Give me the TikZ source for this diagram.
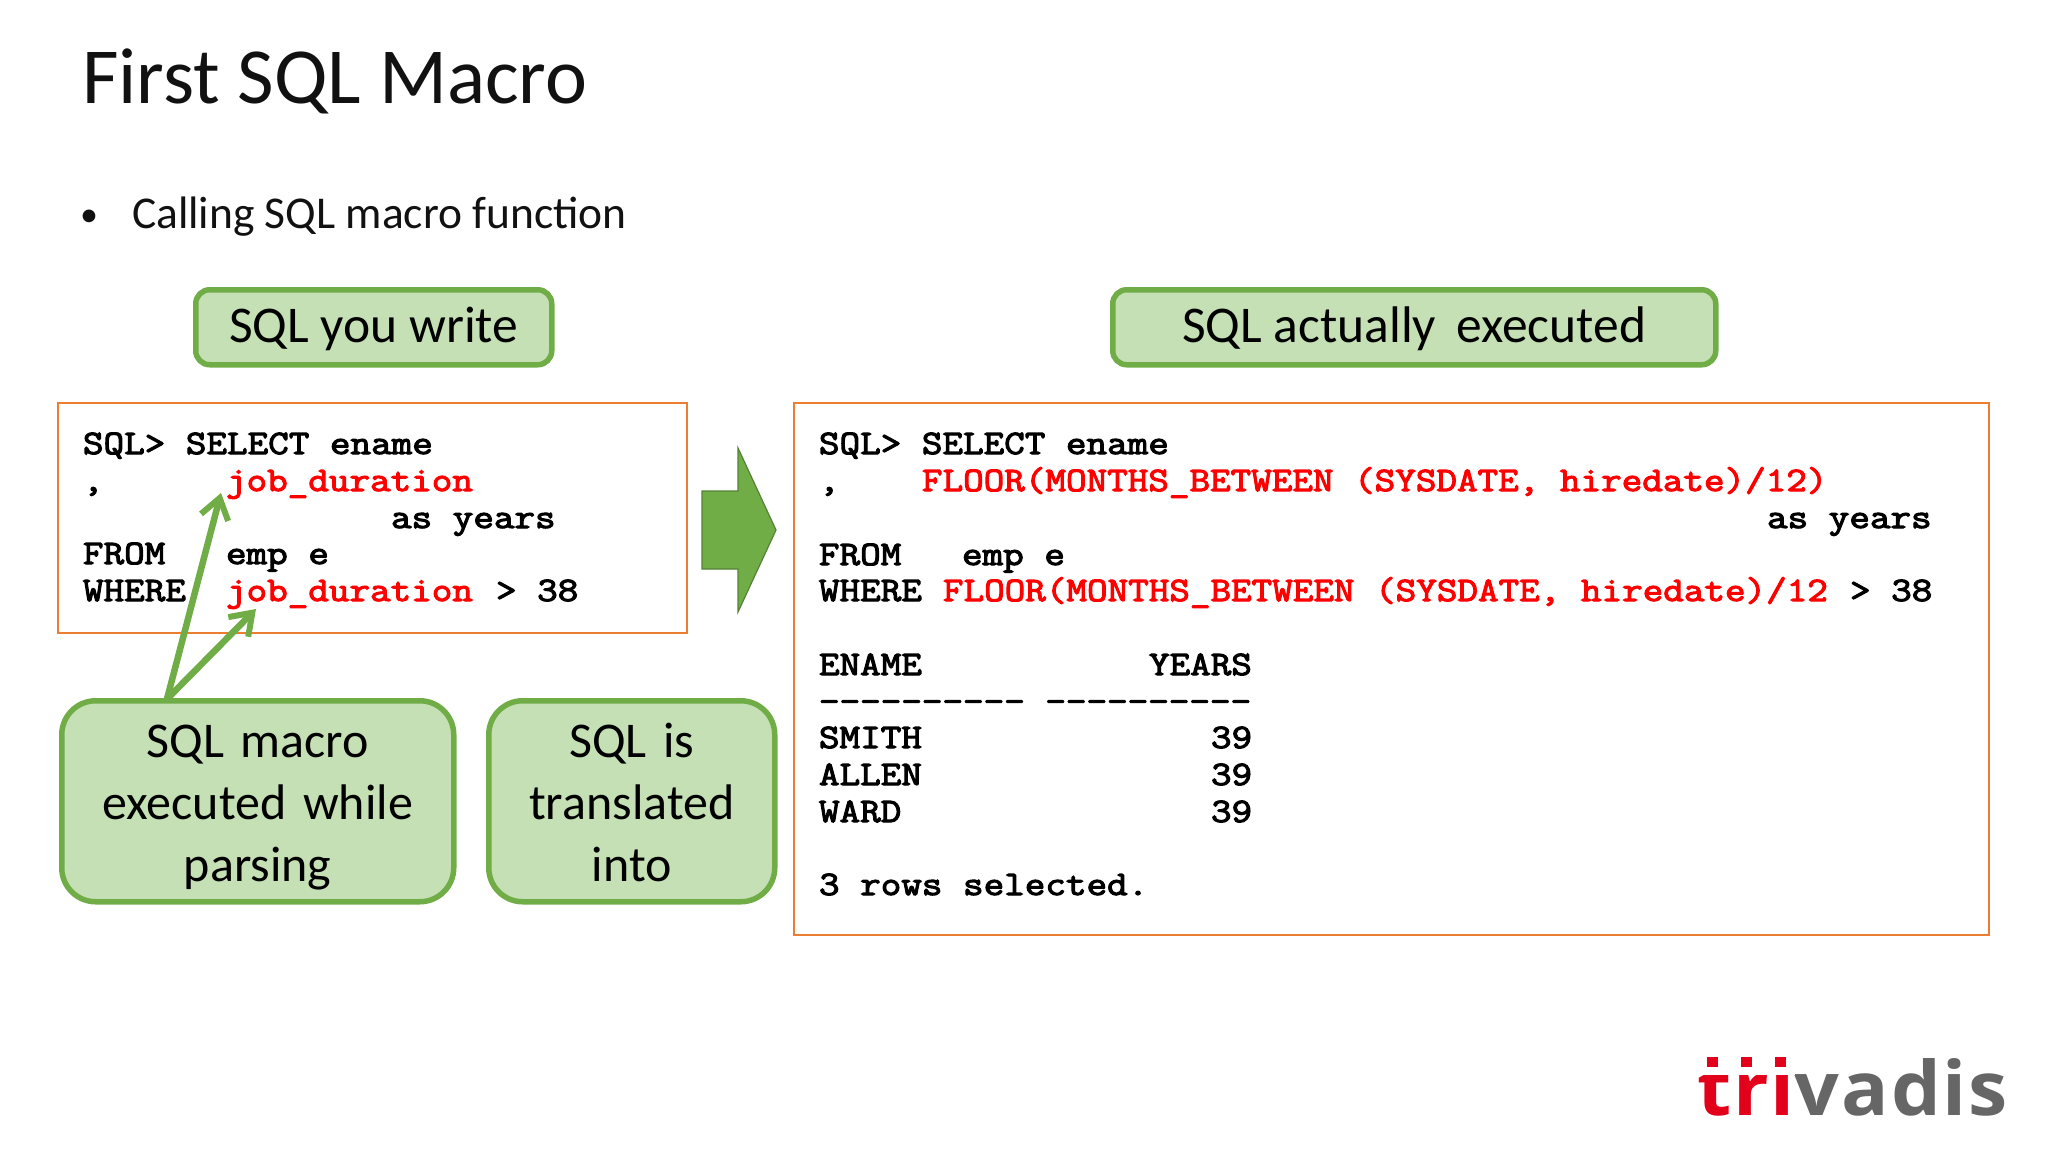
\documentclass[tikz,border=0pt]{standalone}
\usepackage{fontspec}
\setmainfont{Carlito}
\newfontfamily\codefont{Latin Modern Mono}[FakeStretch=1.165,FakeBold=3.2]
\newfontfamily\logofont{Open Sans Bold}[FakeStretch=1.05,LetterSpace=2.6]
\usetikzlibrary{arrows.meta}
\definecolor{gfill}{HTML}{C5E0B4}
\definecolor{gline}{HTML}{70AD47}
\definecolor{gdark}{HTML}{548235}
\definecolor{orangeline}{HTML}{ED7D31}
\definecolor{logored}{HTML}{E2001A}
\definecolor{logogrey}{HTML}{666666}
\definecolor{ink}{HTML}{111111}
\tikzset{
  x=1pt,y=-1pt,
  txt/.style={anchor=base west,inner sep=0pt,outer sep=0pt,text=ink},
  codeb/.style={txt,font=\codefont\fontsize{34.3}{37}\selectfont,text=black},
  coder/.style={codeb,text=red},
  codebox/.style={draw=orangeline,line width=2.4pt,fill=white,rectangle,inner sep=0pt,anchor=north west},
  greenbox/.style={draw=gline,fill=gfill,line width=5.5pt,rounded corners=#1,anchor=north west,inner sep=0pt,align=center,text=black,
    font=\fontsize{50}{62}\selectfont},
  greenbox/.default=14pt,
  headtext/.style={font=\fontsize{51.5}{62}\selectfont,text height=41pt,text depth=10pt},
  pointer/.style={draw=gline,line width=6.5pt,-{Straight Barb[length=20pt,width=28pt,line width=6pt]}},
  logosq/.style={fill=#1,draw=none},
}
\begin{document}
\begin{tikzpicture}
\useasboundingbox[fill=white] (0,0) rectangle (2048,1152);
% titles
\node[txt,font=\fontsize{79.5}{90}\selectfont] (title) at (82,103) {First SQL Macro};
\node[txt,font=\fontsize{36}{50}\selectfont] (bul) at (80,226) {•};
\node[txt,font=\fontsize{45.5}{50}\selectfont] (sub) at (132,228) {Calling SQL macro function};
% headers
\node[greenbox,headtext,minimum width=356pt,minimum height=75pt] (hleft) at (193,287) {SQL you write};
\node[greenbox,headtext,minimum width=603pt,minimum height=75pt] (hright) at (1110,287) {SQL actually\, executed};
% code boxes
\node[codebox,minimum width=628.6pt,minimum height=229.6pt] (lbox) at (57,402) {};
\node[codebox,minimum width=1194.6pt,minimum height=531.6pt] (rbox) at (793,402) {};
% left code
\node[codeb] (l1) at (83,454) {SQL> SELECT ename};
\node[codeb] (l2) at (83,491) {,};
\node[coder] (l2b) at (226,491) {job\_duration};
\node[codeb] (l3) at (391,528) {as years};
\node[codeb] (l4) at (83,564) {FROM};
\node[codeb] (l4b) at (226,564) {emp e};
\node[codeb] (l5) at (83,601) {WHERE};
\node[coder] (l5b) at (226,601) {job\_duration};
\node[codeb] (l5c) at (496,601) {> 38};
% right code
\node[codeb] (r1) at (819,454) {SQL> SELECT ename};
\node[codeb] (r2) at (819,491) {,};
\node[coder] (r2b) at (922,491) {FLOOR(MONTHS\_BETWEEN (SYSDATE, hiredate)/12)};
\node[codeb] (r3) at (1767,528) {as years};
\node[codeb] (r4) at (819,565) {FROM};
\node[codeb] (r4b) at (962,565) {emp e};
\node[codeb] (r5) at (819,601) {WHERE};
\node[coder] (r5b) at (943,601) {FLOOR(MONTHS\_BETWEEN (SYSDATE, hiredate)/12};
\node[codeb] (r5c) at (1850,601) {> 38};
\node[codeb] (r6) at (819,675) {ENAME};
\node[codeb] (r6b) at (1149,675) {YEARS};
\node[codeb] (r7) at (819,712) {---------- ----------};
\node[codeb] (r8) at (819,748) {SMITH};
\node[codeb] (r8b) at (1211,748) {39};
\node[codeb] (r9) at (819,785) {ALLEN};
\node[codeb] (r9b) at (1211,785) {39};
\node[codeb] (r10) at (819,822) {WARD};
\node[codeb] (r10b) at (1211,822) {39};
\node[codeb] (r11) at (819,895) {3 rows selected.};
% block arrow
\draw[fill=gline,draw=gdark,line width=1.2pt] (702,491) -- (738,491) -- (738,448) -- (776,530) -- (738,612) -- (738,569) -- (702,569) -- cycle;
% green boxes
\node[greenbox=34pt,minimum width=392pt,minimum height=201pt,text width=392pt] (macro) at (59,698) {\rule{0pt}{45pt}SQL macro\\executed while\\parsing};
\node[greenbox=34pt,minimum width=286pt,minimum height=201pt,text width=286pt] (transl) at (486,698) {\rule{0pt}{45pt}SQL is\\translated\\into\vphantom{g}};
% pointers
\coordinate (src) at (167,699);
\coordinate (tipa) at (221,493);
\coordinate (tipb) at (256,609);
\draw[pointer] (src) -- (tipa);
\draw[pointer] (src) -- (tipb);
% logo
\node[txt,font=\logofont\fontsize{75}{80}\selectfont,text=logored] (lgt) at (1697,1115) {tri};
\node[txt,font=\logofont\fontsize{75}{80}\selectfont,text=logogrey,anchor=base west] (lgv) at (lgt.base east) {vadis};
\fill[white] (1696,1040) rectangle (1795,1074.5);
\fill[logosq=logored] (1707,1057) rectangle (1718,1067);
\fill[logosq=logored] (1741,1057) rectangle (1752,1067);
\fill[logosq=logored] (1775,1057) rectangle (1786,1067);
\end{tikzpicture}
\end{document}
